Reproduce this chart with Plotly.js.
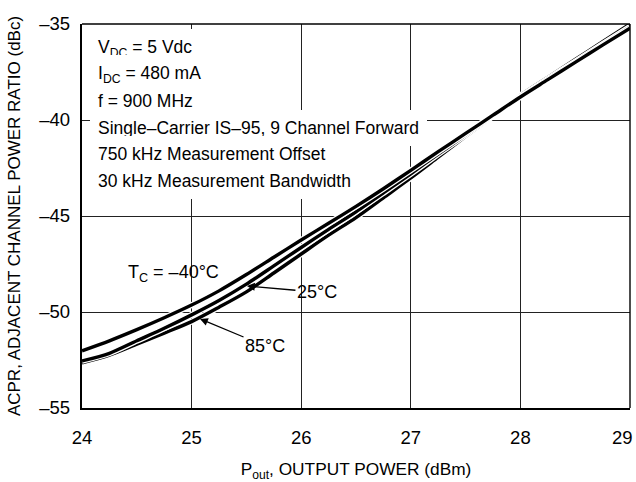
<!DOCTYPE html>
<html>
<head>
<meta charset="utf-8">
<script src="https://cdn.plot.ly/plotly-3.0.1.min.js"></script>
<style>
  html, body { margin: 0; padding: 0; background: #fff; }
  #chart { width: 636px; height: 482px; }
</style>
</head>
<body>
<div id="chart"></div>
<script>
// ---- data ----
const pout = [24, 24.25, 24.5, 24.75, 25, 25.25, 25.5, 25.75, 26, 26.25, 26.5,
              26.75, 27, 27.25, 27.5, 27.75, 28, 28.25, 28.5, 28.75, 29];

const acprMinus40C = [-52.02, -51.50, -50.92, -50.30, -49.64, -48.90, -48.05, -47.15,
                      -46.25, -45.38, -44.50, -43.58, -42.62, -41.65, -40.70, -39.75,
                      -38.80, -37.90, -37.00, -36.10, -35.22];
const acpr25C      = [-52.55, -52.15, -51.50, -50.85, -50.15, -49.40, -48.55, -47.60,
                      -46.64, -45.70, -44.78, -43.80, -42.80, -41.78, -40.78, -39.78,
                      -38.78, -37.85, -36.95, -36.05, -35.15];
const acpr85C      = [-52.65, -52.25, -51.68, -51.10, -50.50, -49.75, -48.95, -47.97,
                      -46.98, -46.00, -45.08, -44.05, -43.02, -41.94, -40.86, -39.80,
                      -38.72, -37.78, -36.85, -35.92, -35.00];

const xTickVals = [24, 25, 26, 27, 28, 29];
const xTickText = ['24', '25', '26', '27', '28', '29'];
const yTickVals = [-55, -50, -45, -40, -35];
const yTickText = ['\u201355', '\u201350', '\u201345', '\u201340', '\u201335'];

const infoLines = [
  'V<sub>DC</sub> = 5 Vdc',
  'I<sub>DC</sub> = 480 mA',
  'f = 900 MHz',
  'Single\u2013Carrier IS\u201395, 9 Channel Forward',
  '750 kHz Measurement Offset',
  '30 kHz Measurement Bandwidth'
];
const curveLabels = ['T<sub>C</sub> = \u201340\u00B0C', '25\u00B0C', '85\u00B0C'];
const xTitle = 'P<sub>out</sub>, OUTPUT POWER (dBm)';
const yTitle = 'ACPR, ADJACENT CHANNEL POWER RATIO (dBc)';

// ---- styling ----
const FONT = '"Liberation Sans", Arial, sans-serif';
const series = [acpr85C, acpr25C, acprMinus40C];

const traces = [];
series.forEach(ys => {
  traces.push({x: pout, y: ys, type: 'scatter', mode: 'lines',
    line: {color: '#ffffff', width: 6, shape: 'spline', smoothing: 0.8},
    hoverinfo: 'skip', showlegend: false});
  traces.push({x: pout, y: ys, type: 'scatter', mode: 'lines',
    line: {color: '#000000', width: 3.4, shape: 'spline', smoothing: 0.8},
    showlegend: false});
});

// plot-area geometry in pixels (used for placing layout text)
const L = 82, R = 630, T = 24, B = 408;
const px2paperX = px => (px - L) / (R - L);
const px2paperY = py => (B - py) / (B - T);

const lineCenters = [48, 74.5, 101, 127.5, 154, 180.5];
const annotations = infoLines.map((txt, i) => ({
  text: txt, xref: 'paper', yref: 'paper',
  x: px2paperX(90), y: px2paperY(lineCenters[i]),
  xanchor: 'left', yanchor: 'middle', showarrow: false,
  bgcolor: '#ffffff', borderpad: 8, borderwidth: 0,
  font: {family: FONT, size: 17.5, color: '#000'}
}));

annotations.push({
  text: curveLabels[0], xref: 'paper', yref: 'paper',
  x: px2paperX(173), y: px2paperY(273), xanchor: 'center', yanchor: 'middle',
  showarrow: false, font: {family: FONT, size: 18, color: '#000'}
});
annotations.push({
  text: curveLabels[1], xref: 'x', yref: 'y', x: 25.505, y: -48.65,
  showarrow: true, ax: 70, ay: 6, arrowhead: 2, arrowsize: 1.2, arrowwidth: 1.3,
  arrowcolor: '#000', standoff: 0,
  font: {family: FONT, size: 18, color: '#000'}
});
annotations.push({
  text: curveLabels[2], xref: 'x', yref: 'y', x: 25.077, y: -50.36,
  showarrow: true, ax: 65, ay: 27, arrowhead: 2, arrowsize: 1.2, arrowwidth: 1.3,
  arrowcolor: '#000', standoff: 0,
  font: {family: FONT, size: 18, color: '#000'}
});
// last x tick label sits flush against the right edge, as in the reference
annotations.push({
  text: xTickText[xTickText.length - 1], xref: 'paper', yref: 'paper',
  x: px2paperX(634), y: px2paperY(437), xanchor: 'right', yanchor: 'middle',
  showarrow: false, borderpad: 0, font: {family: FONT, size: 18.5, color: '#000'}
});
const axisTickText = xTickText.map((t, i) => i === xTickText.length - 1 ? '' : t);

const layout = {
  width: 636, height: 482,
  margin: {l: L, r: 636 - R, t: T, b: 482 - B},
  paper_bgcolor: '#ffffff', plot_bgcolor: '#ffffff',
  showlegend: false,
  font: {family: FONT, size: 18, color: '#000'},
  xaxis: {
    range: [24, 29], tickvals: xTickVals, ticktext: axisTickText,
    showgrid: true, gridcolor: '#222', gridwidth: 1,
    showline: true, linecolor: '#000', linewidth: 2.2,
    ticks: '', zeroline: false, ticklabelstandoff: 12,
    tickfont: {family: FONT, size: 18.5, color: '#000'},
    title: {text: xTitle, font: {family: FONT, size: 17.3, color: '#000'}, standoff: 21}
  },
  yaxis: {
    range: [-55, -35], tickvals: yTickVals, ticktext: yTickText,
    showgrid: true, gridcolor: '#222', gridwidth: 1,
    showline: true, linecolor: '#000', linewidth: 2.2,
    ticks: '', zeroline: false, ticklabelstandoff: 6,
    ticklabeloverflow: 'allow',
    tickfont: {family: FONT, size: 18.5, color: '#000'},
    title: {text: yTitle, font: {family: FONT, size: 17, color: '#000'}, standoff: 14}
  },
  shapes: [
    {type: 'line', xref: 'paper', yref: 'paper', x0: 0, x1: 1, y0: 1, y1: 1,
     line: {color: '#000', width: 1.4}},
    {type: 'line', xref: 'paper', yref: 'paper', x0: 1, x1: 1, y0: 0, y1: 1,
     line: {color: '#000', width: 1.4}}
  ],
  annotations: annotations
};

Plotly.newPlot('chart', traces, layout, {displayModeBar: false, staticPlot: true});
</script>
</body>
</html>
